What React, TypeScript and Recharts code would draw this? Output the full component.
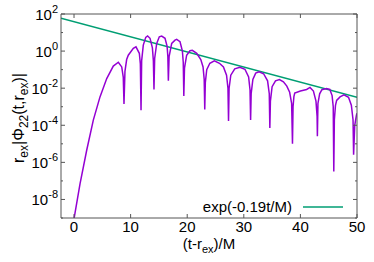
import { LineChart, Line, XAxis, YAxis, Customized } from 'recharts'

// plot frame (pixels); each axis takes 1px of the margin
const W = 374
const H = 262
const M = { top: 13, right: 16, bottom: 43, left: 60 }

const FONT = '"Liberation Sans", Arial, sans-serif'
const FRAME = '#555'
const PURPLE = '#9400d3'
const GREEN = '#009e73'

const xDomain = [-2.3, 50]
const xTicks = [0, 10, 20, 30, 40, 50]
const yDomain = [1e-9, 100]
const yTicks = [1e-9, 1e-8, 1e-7, 1e-6, 1e-5, 1e-4, 1e-3, 1e-2, 1e-1, 1, 10, 100]
const fitLabel = 'exp(-0.19t/M)'

// r_ex |Phi_22(t, r_ex)|
const phiT = [
  0.0, 1.06, 2.24, 3.41, 4.59, 5.78, 6.94, 7.83, 8.43, 8.7, 8.83,
  9.0, 9.3, 9.59, 10.48, 10.95, 11.54, 11.72, 11.84,
  11.95, 12.24, 12.67, 13.0, 13.43, 13.85, 14.02, 14.13,
  14.25, 14.61, 15.07, 15.49, 16.08, 16.45, 16.58, 16.67,
  16.8, 17.26, 17.84, 18.14, 18.73, 19.15, 19.3, 19.4,
  19.52, 19.9, 20.49, 20.9, 21.68, 22.4, 22.8, 23.0, 23.1,
  23.2, 23.45, 24.0, 24.8, 25.7, 26.4, 26.95, 27.2, 27.3,
  27.4, 27.7, 28.4, 29.3, 30.2, 30.85, 31.1, 31.2,
  31.3, 31.6, 32.1, 32.7, 33.5, 34.2, 34.5, 34.6,
  34.7, 35.0, 35.6, 36.3, 37.0, 37.6, 38.1, 38.45, 38.6,
  38.7, 38.85, 39.0, 40.0, 41.1, 41.7, 42.3, 42.75, 42.95, 43.0,
  43.1, 43.4, 43.8, 44.6, 45.2, 45.6, 45.8, 45.9,
  46.0, 46.2, 46.4, 47.0, 47.7, 48.5, 49.0, 49.3, 49.4,
  49.6, 49.9, 50.0,
]
const phiV = [
  9e-10, 7e-8, 4.5e-6, 1.9e-4, 3.4e-3, 3.3e-2, 0.155, 0.25, 0.14, 0.04, 1.4e-3,
  0.08, 0.35, 0.6, 1.4, 1.7, 0.76, 0.2, 6.5e-4,
  0.3, 2.1, 5.5, 6.5, 4.9, 1.5, 0.3, 8.5e-3,
  0.4, 2.6, 5.9, 6.5, 4.9, 1.8, 0.5, 2.5e-2,
  0.5, 2.6, 3.9, 4.3, 3.2, 1.0, 0.25, 3.8e-3,
  0.12, 0.6, 1.05, 1.1, 0.76, 0.35, 0.14, 0.03, 7e-4,
  0.02, 0.1, 0.22, 0.3, 0.22, 0.14, 0.05, 0.01, 1.7e-4,
  0.01, 0.05, 0.11, 0.135, 0.105, 0.04, 0.008, 1.9e-4,
  0.005, 0.03, 0.065, 0.076, 0.06, 0.025, 0.005, 7.2e-5,
  0.002, 0.012, 0.025, 0.029, 0.022, 0.013, 0.006, 0.0015, 1e-5,
  1e-3, 3.5e-3, 5.4e-3, 7e-3, 8.5e-3, 0.011, 7e-3, 2e-3, 3e-4, 2.6e-5,
  1.5e-3, 5e-3, 8.3e-3, 9.5e-3, 8.5e-3, 4e-3, 1e-3, 3.2e-7,
  2e-4, 1.2e-3, 2.2e-3, 3.4e-3, 4.4e-3, 3.2e-3, 1.2e-3, 2e-4, 2.6e-6,
  1e-4, 3.5e-4, 4.5e-4,
]

// exp(-0.19 t/M) reference line, end points
const fitT = [-2.3, 50]
const fitV = [60, 3.2e-3]

const phiData = phiT.map((t, i) => ({ t, v: phiV[i] }))
const fitData = fitT.map((t, i) => ({ t, v: fitV[i] }))

const expOf = (v: number) => Math.round(Math.log10(v))

const BottomTick = ({ x, y, payload }: any) => (
  <g>
    <line x1={x} y1={y} x2={x} y2={y - 4} stroke={FRAME} />
    <text x={x} y={y + 14} textAnchor="middle" fontSize={15} fontFamily={FONT} fill="#000">
      {payload.value}
    </text>
  </g>
)

const TopTick = ({ x, y }: any) => <line x1={x} y1={y} x2={x} y2={y + 4} stroke={FRAME} />

const LeftTick = ({ x, y, payload }: any) => {
  const e = expOf(payload.value)
  const major = e % 2 === 0
  return (
    <g>
      <line x1={x} y1={y} x2={x + (major ? 4 : 2)} y2={y} stroke={FRAME} />
      {major && e > -9 && (
        <text x={x - 3} y={y + 6} textAnchor="end" fontSize={15} fontFamily={FONT} fill="#000">
          10<tspan dy={-7} fontSize={11}>{e}</tspan>
        </text>
      )}
    </g>
  )
}

const RightTick = ({ x, y, payload }: any) => {
  const major = expOf(payload.value) % 2 === 0
  return <line x1={x} y1={y} x2={x - (major ? 4 : 2)} y2={y} stroke={FRAME} />
}

const Labels = () => (
  <g fontFamily={FONT} fill="#000">
    <text x={209} y={249} textAnchor="middle" fontSize={15}>
      (t-r<tspan dy={4} fontSize={11}>ex</tspan><tspan dy={-4}>)/M</tspan>
    </text>
    <text transform="rotate(-90)" x={-118} y={24} textAnchor="middle" fontSize={16}>
      r<tspan dy={4} fontSize={12}>ex</tspan>
      <tspan dy={-4}>|Φ</tspan>
      <tspan dy={4} fontSize={12}>22</tspan>
      <tspan dy={-4}>(t,r</tspan>
      <tspan dy={4} fontSize={12}>ex</tspan>
      <tspan dy={-4}>)|</tspan>
    </text>
    <text x={292} y={212} textAnchor="end" fontSize={15}>{fitLabel}</text>
    <line x1={303} y1={207} x2={343} y2={207} stroke={GREEN} strokeWidth={1.5} />
  </g>
)

const axisCommon = {
  type: 'number' as const,
  allowDataOverflow: true,
  tickSize: 0,
  tickMargin: 0,
  tickLine: false,
  stroke: FRAME,
  interval: 0 as const,
}

export default function App() {
  return (
    <div style={{ position: 'absolute', left: 0, top: 0, width: W, height: H, background: '#fff' }}>
      <LineChart width={W} height={H} margin={M}>
        <XAxis {...axisCommon} xAxisId="b" dataKey="t" domain={xDomain} ticks={xTicks} height={1} tick={BottomTick} />
        <XAxis {...axisCommon} xAxisId="top" orientation="top" dataKey="t" domain={xDomain} ticks={xTicks} height={1} tick={TopTick} />
        <YAxis {...axisCommon} yAxisId="l" scale="log" domain={yDomain} ticks={yTicks} width={1} tick={LeftTick} />
        <YAxis {...axisCommon} yAxisId="r" orientation="right" scale="log" domain={yDomain} ticks={yTicks} width={1} tick={RightTick} />
        <Line
          xAxisId="b"
          yAxisId="l"
          data={fitData}
          dataKey="v"
          stroke={GREEN}
          strokeWidth={1.5}
          dot={false}
          isAnimationActive={false}
        />
        <Line
          xAxisId="b"
          yAxisId="l"
          data={phiData}
          dataKey="v"
          type="linear"
          stroke={PURPLE}
          strokeWidth={1.5}
          dot={false}
          isAnimationActive={false}
        />
        <Customized component={Labels} />
      </LineChart>
    </div>
  )
}
